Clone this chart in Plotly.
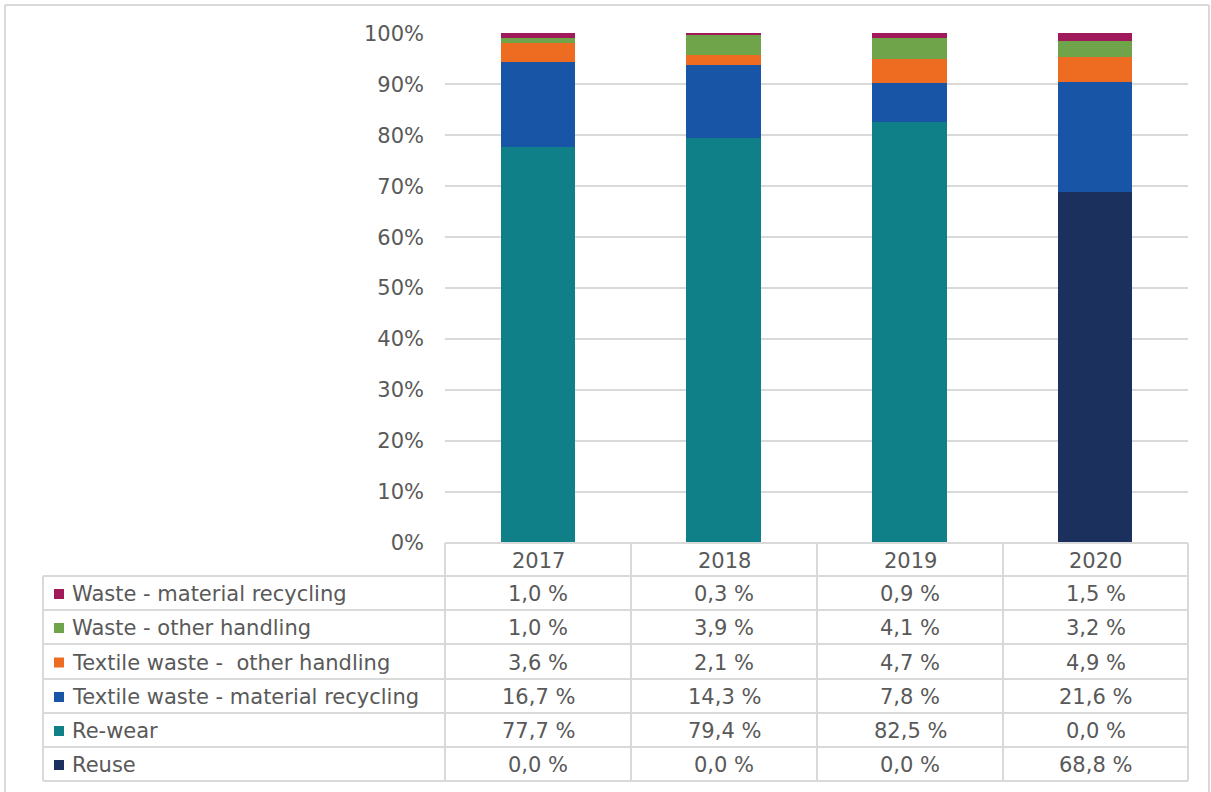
import plotly.graph_objects as go

years = ["2017", "2018", "2019", "2020"]
series_names = [
    "Waste - material recycling",
    "Waste - other handling",
    "Textile waste -  other handling",
    "Textile waste - material recycling",
    "Re-wear",
    "Reuse",
]
waste_material_recycling = [1.0, 0.3, 0.9, 1.5]
waste_other_handling = [1.0, 3.9, 4.1, 3.2]
textile_other_handling = [3.6, 2.1, 4.7, 4.9]
textile_material_recycling = [16.7, 14.3, 7.8, 21.6]
re_wear = [77.7, 79.4, 82.5, 0.0]
reuse = [0.0, 0.0, 0.0, 68.8]
colors = ["#A0195A", "#70A44A", "#EE6B22", "#1955A6", "#108088", "#1B305C"]
y_ticks = [0, 10, 20, 30, 40, 50, 60, 70, 80, 90, 100]

series_values = [waste_material_recycling, waste_other_handling, textile_other_handling,
                 textile_material_recycling, re_wear, reuse]

W, H = 1211, 792
PX_L, PX_R = 445, 1188
PY_TOP, PY_BOT = 33, 543
TXT = "#595959"
FONT = "DejaVu Sans"
FS = 21
GRID = "#D9D9D9"

def fx(px):
    return px / W

def fy(py):
    return 1 - py / H

fig = go.Figure()
# stack from bottom: reuse first
for name, vals, col in reversed(list(zip(series_names, series_values, colors))):
    fig.add_trace(go.Bar(x=years, y=vals, name=name, marker=dict(color=col, line=dict(width=0)),
                         width=0.4))

fig.update_layout(
    template="none",
    width=W, height=H, barmode="stack", showlegend=False,
    margin=dict(l=0, r=0, t=0, b=0, pad=0, autoexpand=False),
    paper_bgcolor="white", plot_bgcolor="white",
    font=dict(family=FONT, color=TXT, size=FS),
    xaxis=dict(type="category", domain=[fx(PX_L), fx(PX_R)], showticklabels=False, showgrid=False,
               automargin=False, zeroline=False, showline=False, ticks="", range=[-0.5, 3.5]),
    yaxis=dict(domain=[fy(PY_BOT), fy(PY_TOP)], range=[0, 100.05], tickvals=y_ticks, automargin=False,
               ticktext=[f"{v}%" for v in y_ticks], showgrid=True, gridcolor=GRID,
               gridwidth=2, zeroline=False, showline=False, ticks="",
               ticklabelstandoff=20, tickfont=dict(size=FS, color=TXT, family=FONT)),
)

shapes = []
annotations = []
line = dict(color=GRID, width=2)

# outer border
shapes.append(dict(type="line", xref="paper", yref="paper", x0=fx(5), x1=fx(1209), y0=fy(5), y1=fy(5), line=line))
shapes.append(dict(type="line", xref="paper", yref="paper", x0=fx(5), x1=fx(5), y0=fy(5), y1=fy(792), line=line))
shapes.append(dict(type="line", xref="paper", yref="paper", x0=fx(1209), x1=fx(1209), y0=fy(5), y1=fy(792), line=line))

# table geometry
col_edges = [43, 445, 631, 817, 1003, 1188]
row_edges = [543, 576, 610, 644, 679, 713, 747, 781]

# horizontal lines
for i, ry in enumerate(row_edges):
    x0 = col_edges[1] if i == 0 else col_edges[0]
    shapes.append(dict(type="line", xref="paper", yref="paper", x0=fx(x0), x1=fx(col_edges[-1]),
                       y0=fy(ry), y1=fy(ry), line=line))
# vertical lines
for j, cx in enumerate(col_edges):
    y0 = row_edges[1] if j == 0 else row_edges[0]
    shapes.append(dict(type="line", xref="paper", yref="paper", x0=fx(cx), x1=fx(cx),
                       y0=fy(y0), y1=fy(row_edges[-1]), line=line))

# header
for j, yr in enumerate(years):
    cx = (col_edges[j + 1] + col_edges[j + 2]) / 2
    cy = (row_edges[0] + row_edges[1]) / 2 + 1
    annotations.append(dict(x=fx(cx), y=fy(cy), xref="paper", yref="paper", text=yr,
                            showarrow=False, font=dict(size=FS, color=TXT, family=FONT),
                            xanchor="center", yanchor="middle"))

# rows
for i, (name, vals, col) in enumerate(zip(series_names, series_values, colors)):
    top, bot = row_edges[i + 1], row_edges[i + 2]
    cy = (top + bot) / 2 + 1
    shapes.append(dict(type="rect", xref="paper", yref="paper", x0=fx(54), x1=fx(64),
                       y0=fy(cy - 5), y1=fy(cy + 5), fillcolor=col, line=dict(width=0)))
    annotations.append(dict(x=fx(70), y=fy(cy), xref="paper", yref="paper", text=name.replace("  ", "&nbsp; "),
                            showarrow=False, font=dict(size=FS, color=TXT, family=FONT),
                            xanchor="left", yanchor="middle"))
    for j, v in enumerate(vals):
        cx = (col_edges[j + 1] + col_edges[j + 2]) / 2
        annotations.append(dict(x=fx(cx), y=fy(cy), xref="paper", yref="paper",
                                text=f"{v:.1f} %".replace(".", ","),
                                showarrow=False, font=dict(size=FS, color=TXT, family=FONT),
                                xanchor="center", yanchor="middle"))

fig.update_layout(shapes=shapes, annotations=annotations)
fig.write_html("out.html")
